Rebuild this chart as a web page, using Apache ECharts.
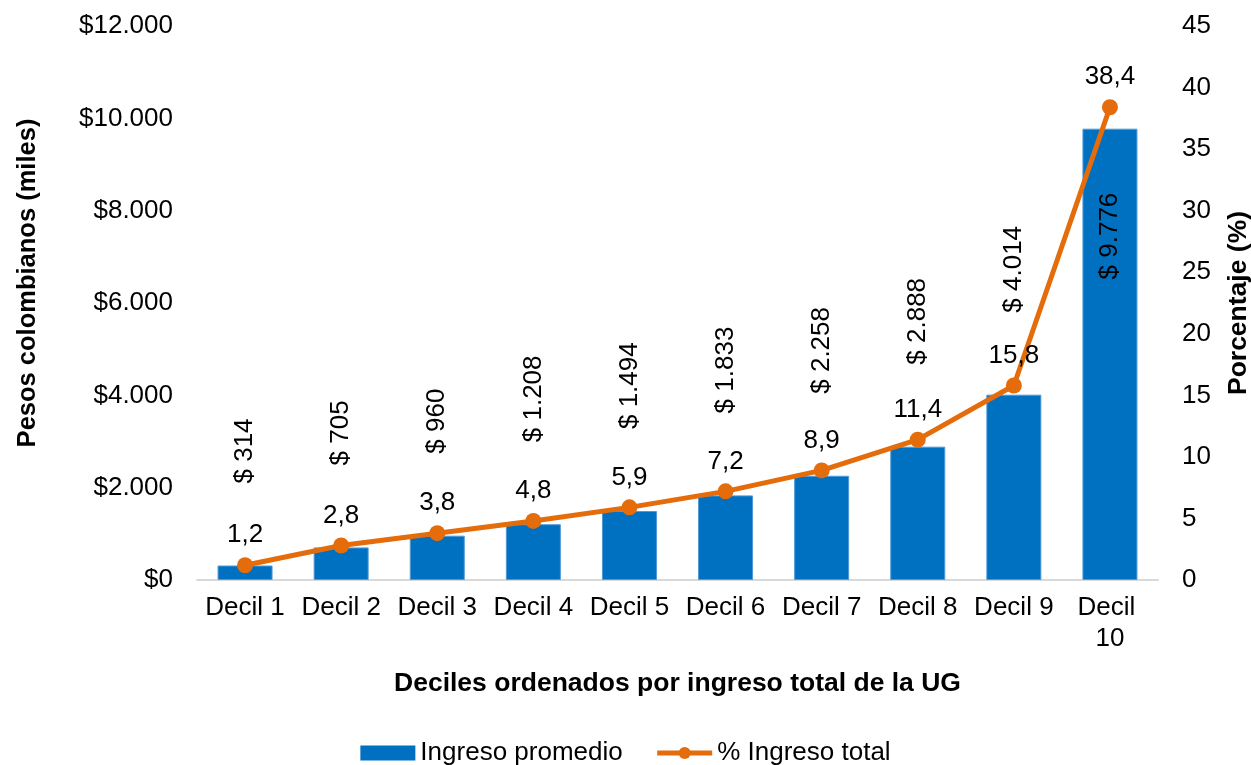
<!DOCTYPE html>
<html>
<head>
<meta charset="utf-8">
<script src="https://cdn.jsdelivr.net/npm/echarts@6/dist/echarts.min.js"></script>
<style>
  html, body { margin: 0; padding: 0; background: #fff; }
  #chart { width: 1251px; height: 765px; }
</style>
</head>
<body>
<div id="chart"></div>
<script>
// data
var deciles = ['Decil 1', 'Decil 2', 'Decil 3', 'Decil 4', 'Decil 5',
               'Decil 6', 'Decil 7', 'Decil 8', 'Decil 9', 'Decil 10'];
var ingresoPromedio = [314, 705, 960, 1208, 1494, 1833, 2258, 2888, 4014, 9776];
var pctIngresoTotal = [1.2, 2.8, 3.8, 4.8, 5.9, 7.2, 8.9, 11.4, 15.8, 38.4];

var FONT = '"Liberation Sans", Arial, sans-serif';
var BLUE = '#0070C0';
var ORANGE = '#E46C0A';
var FS = 26;

function miles(v) {
  return String(v).replace(/\B(?=(\d{3})+(?!\d))/g, '.');
}

var myChart = echarts.init(document.getElementById('chart'));

// the biggest bar carries its label inside, the rest sit above the bar
var barData = ingresoPromedio.map(function (v, i) {
  if (i === ingresoPromedio.length - 1) {
    return {
      value: v,
      label: { position: 'insideTop', align: 'right', distance: 64 }
    };
  }
  return v;
});

var option = {
  textStyle: { fontFamily: FONT },
  grid: { left: 197, right: 93, top: 26, bottom: 185, outerBoundsMode: 'none' },
  legend: {
    top: 735,
    left: 'center',
    itemGap: 32,
    itemWidth: 55,
    itemHeight: 15,
    textStyle: { fontSize: 26, color: '#000', fontFamily: FONT },
    data: [
      { name: 'Ingreso promedio', icon: 'rect', itemStyle: { borderWidth: 0 } },
      { name: '% Ingreso total', lineStyle: { width: 5 } }
    ]
  },
  xAxis: {
    type: 'category',
    data: deciles,
    name: 'Deciles ordenados por ingreso total de la UG',
    nameLocation: 'middle',
    nameGap: 90,
    nameTextStyle: { fontSize: 26.5, fontWeight: 'bold', color: '#000', fontFamily: FONT },
    axisLine: { lineStyle: { color: '#D9D9D9', width: 2 } },
    axisTick: { show: false },
    axisLabel: {
      interval: 0,
      fontSize: FS, color: '#000', margin: 12, fontFamily: FONT,
      width: 86, overflow: 'break', lineHeight: 31
    }
  },
  yAxis: [
    {
      type: 'value',
      min: 0, max: 12000, interval: 2000,
      name: 'Pesos colombianos (miles)',
      nameLocation: 'middle',
      nameGap: 156,
      nameTextStyle: {
        fontSize: 25.5, fontWeight: 'bold', color: '#000', fontFamily: FONT,
        padding: [0, 0, 0, 40]
      },
      axisLine: { show: false },
      axisTick: { show: false },
      splitLine: { show: false },
      axisLabel: {
        fontSize: FS, color: '#000', margin: 24, fontFamily: FONT,
        formatter: function (v) { return '$' + miles(v); }
      }
    },
    {
      type: 'value',
      min: 0, max: 45, interval: 5,
      name: 'Porcentaje (%)',
      nameLocation: 'middle',
      nameGap: 67,
      nameRotate: 90,
      nameTextStyle: { fontSize: 26.5, fontWeight: 'bold', color: '#000', fontFamily: FONT },
      axisLine: { show: false },
      axisTick: { show: false },
      splitLine: { show: false },
      axisLabel: { fontSize: FS, color: '#000', margin: 24, fontFamily: FONT }
    }
  ],
  series: [
    {
      name: 'Ingreso promedio',
      type: 'bar',
      yAxisIndex: 0,
      barWidth: 55,
      itemStyle: { color: BLUE, borderColor: '#4F9AD8', borderWidth: 1 },
      label: {
        show: true,
        position: 'top',
        rotate: 90,
        align: 'left',
        verticalAlign: 'middle',
        distance: 82,
        fontSize: FS,
        color: '#000',
        fontFamily: FONT,
        formatter: function (p) { return '$ ' + miles(p.value); }
      },
      data: barData,
      z: 2
    },
    {
      name: '% Ingreso total',
      type: 'line',
      yAxisIndex: 1,
      symbol: 'circle',
      symbolSize: 16,
      lineStyle: { color: ORANGE, width: 5 },
      itemStyle: { color: ORANGE },
      label: {
        show: true,
        position: 'top',
        distance: 9,
        fontSize: FS,
        color: '#000',
        fontFamily: FONT,
        formatter: function (p) { return String(p.value).replace('.', ','); }
      },
      data: pctIngresoTotal,
      z: 3
    }
  ]
};

myChart.setOption(option);
</script>
</body>
</html>
